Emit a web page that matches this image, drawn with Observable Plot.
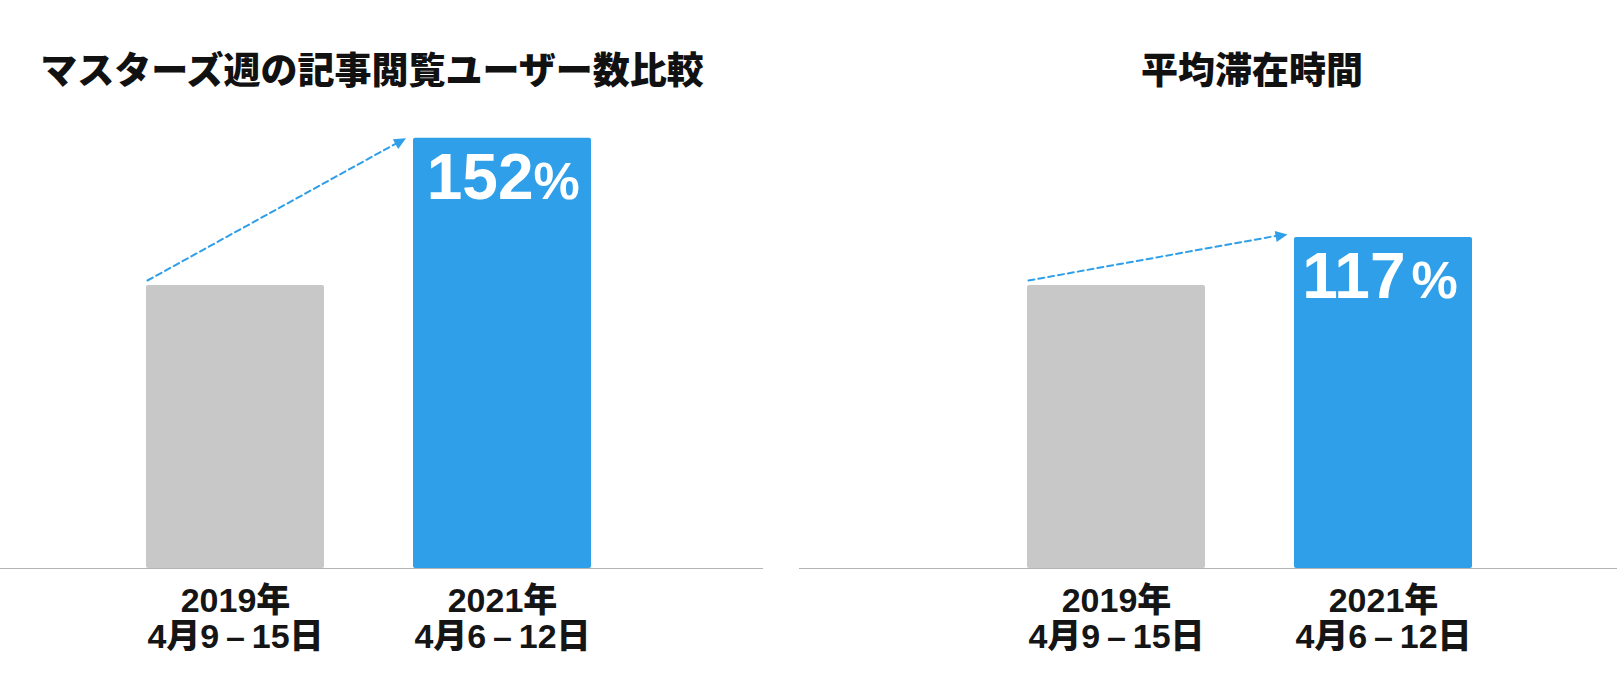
<!DOCTYPE html>
<html>
<head>
<meta charset="utf-8">
<script src="https://cdn.jsdelivr.net/npm/d3@7"></script>
<script src="https://cdn.jsdelivr.net/npm/@observablehq/plot@0.6"></script>
<style>
  html, body { margin: 0; padding: 0; background: #fff; }
  #root { position: relative; width: 1617px; height: 676px; overflow: hidden; }
  .panel { position: absolute; top: 0; }
  .title {
    position: absolute; top: 50px; width: 800px; text-align: center;
    font-family: "Noto Sans CJK JP", sans-serif; font-weight: 900;
    font-size: 37px; line-height: 37px; color: #111; white-space: nowrap;
  }
  .panel svg { position: absolute; top: 120px; left: 0; overflow: visible; }
  g[aria-label="category"] text { letter-spacing: 3px; }
</style>
</head>
<body>
<div id="root"></div>
<script>
// ---- data ----
const categories = ["2019年\n4月9\u2009–\u200915日", "2021年\n4月6\u2009–\u200912日"];
const titles = ["マスターズ週の記事閲覧ユーザー数比較", "平均滞在時間"];
const usersPct = [100, 152];   // 記事閲覧ユーザー数 (2019 = 100)
const dwellPct = [100, 117];   // 平均滞在時間 (2019 = 100)
const barColors = ["#c8c8c8", "#2e9fe8"];

function head(angleDeg) {
  // filled triangle whose tip is at the symbol origin, pointing along angleDeg
  const a = angleDeg * Math.PI / 180;
  const L = 12, W = 5.5;
  const ux = Math.cos(a), uy = Math.sin(a), px = -uy, py = ux;
  return {
    draw(ctx) {
      ctx.moveTo(0, 0);
      ctx.lineTo(-L * ux + W * px, -L * uy + W * py);
      ctx.lineTo(-L * ux - W * px, -L * uy - W * py);
      ctx.closePath();
    }
  };
}

function panel(cfg) {
  const data = categories.map((c, i) => ({cat: c, value: cfg.values[i]}));
  const change = [{from: categories[0], to: categories[1], v0: cfg.values[0], v1: cfg.values[1]}];
  const last = [data[1]];
  const plot = Plot.plot({
    width: cfg.width,
    height: 556,
    marginTop: 0, marginBottom: 0, marginLeft: 0, marginRight: 0,
    style: {overflow: "visible", background: "transparent"},
    x: {type: "band", domain: categories, range: cfg.xRange, padding: 1 / 3, axis: null},
    y: {domain: [0, 100], range: [448, 165], axis: null},
    color: {domain: categories, range: barColors},
    marks: [
      Plot.barY(data, {x: "cat", y: "value", fill: "cat", rx: 2}),
      Plot.ruleY([0], {stroke: "#b4b4b4", strokeWidth: 1.2}),
      Plot.arrow(change, {
        x1: "from", y1: "v0", x2: "to", y2: "v1",
        dx: -88, dy: -5, headLength: 0, insetEnd: cfg.inset,
        stroke: "#2e9fe8", strokeWidth: 2, strokeDasharray: "6,4"
      }),
      Plot.dot(last, {
        x: "cat", y: "value", dx: cfg.headDx, dy: cfg.headDy,
        symbol: head(cfg.angle), r: 6, fill: "#2e9fe8", stroke: "none"
      }),
      Plot.text(last, {
        x: "cat", y: "value", text: d => String(d.value),
        textAnchor: "end", lineAnchor: "bottom", dx: cfg.numDx, dy: 61,
        fill: "#fff", fontSize: 64, fontWeight: "bold",
        fontFamily: "'Liberation Sans', Arial, sans-serif"
      }),
      Plot.text(last, {
        x: "cat", y: "value", text: d => "%",
        textAnchor: "start", lineAnchor: "bottom", dx: cfg.pctDx, dy: 61,
        fill: "#fff", fontSize: 52, fontWeight: "bold",
        fontFamily: "'Liberation Sans', Arial, sans-serif"
      }),
      Plot.text(data, {
        x: "cat", y: d => 0, text: "cat", ariaLabel: "category",
        lineAnchor: "top", lineHeight: 1.06, dy: 18,
        fill: "#151515", fontSize: 34, fontWeight: 900,
        fontFamily: "'Liberation Sans', 'Noto Sans CJK JP', sans-serif"
      })
    ]
  });
  const div = document.createElement("div");
  div.className = "panel";
  div.style.left = cfg.left + "px";
  div.style.width = cfg.width + "px";
  div.style.height = "676px";
  const t = document.createElement("div");
  t.className = "title";
  t.textContent = cfg.title;
  t.style.left = (cfg.titleCenter - 400) + "px";
  div.appendChild(t);
  div.appendChild(plot);
  return div;
}

const root = document.getElementById("root");
root.appendChild(panel({
  left: 0, width: 763, xRange: [57, 680], values: usersPct, title: titles[0], titleCenter: 372,
  inset: 19, headDx: -96.5, headDy: 0, angle: -29, numDx: 31, pctDx: 31
}));
root.appendChild(panel({
  left: 799, width: 818, xRange: [139, 762], values: dwellPct, title: titles[1], titleCenter: 453,
  inset: 18, headDx: -96, headDy: -3, angle: -10, numDx: 22, pctDx: 28
}));
</script>
</body>
</html>
